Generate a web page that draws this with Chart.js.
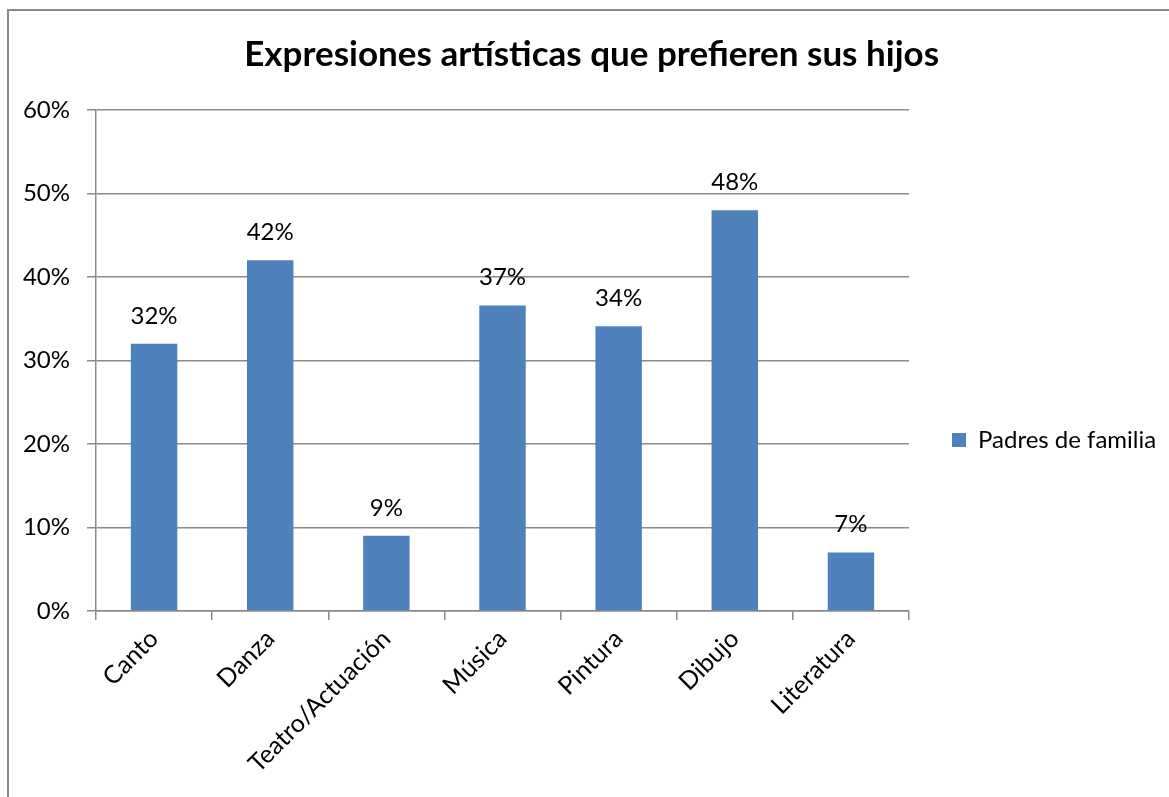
<!DOCTYPE html>
<html><head><meta charset="utf-8">
<script src="https://cdn.jsdelivr.net/npm/chart.js@4"></script>
<style>
html,body{margin:0;padding:0;overflow:hidden;background:#fff;width:1169px;height:797px}
#frame{position:absolute;left:7px;top:9px;width:1300px;height:1000px;border-left:2px solid #898989;border-top:2px solid #898989;}
#wrap{position:absolute;left:0;top:0;width:1200px;height:880px}
</style></head><body>
<div id="frame"></div>
<div id="wrap"><canvas id="c" width="1200" height="880"></canvas></div>
<script>
const categories = ['Canto','Danza','Teatro/Actuación','Música','Pintura','Dibujo','Literatura'];
const seriesName = 'Padres de familia';
const values = [32, 42, 9, 36.6, 34.1, 48, 7];
const yTickValues = [0, 10, 20, 30, 40, 50, 60];
const titleText = 'Expresiones artísticas que prefieren sus hijos';

const FONT = 'Lato';
const W = 1200, H = 880;
const legendFontSize = 24;
const mctx = document.createElement('canvas').getContext('2d');
mctx.font = legendFontSize + 'px ' + FONT;
const legendTextW = mctx.measureText(seriesName).width;
const legendPad = 43, legendBox = 14;
const padLeft = 17;
const padRight = W - 909 - (10 + legendPad + legendBox + legendFontSize / 2 + legendTextW);

const dataLabels = {
  id: 'dataLabels',
  afterDatasetsDraw(chart) {
    const ctx = chart.ctx;
    const meta = chart.getDatasetMeta(0);
    ctx.save();
    ctx.font = '24px ' + FONT;
    ctx.fillStyle = '#000';
    ctx.textAlign = 'center';
    ctx.textBaseline = 'middle';
    meta.data.forEach((el, i) => {
      ctx.fillText(Math.round(values[i]) + '%', el.x, el.y - 28);
    });
    ctx.restore();
  }
};

new Chart(document.getElementById('c'), {
  type: 'bar',
  data: {
    labels: categories,
    datasets: [{
      label: seriesName,
      data: values,
      backgroundColor: '#4F81BD',
      borderWidth: 0,
      barPercentage: 0.4,
      categoryPercentage: 1.0
    }]
  },
  options: {
    responsive: false,
    devicePixelRatio: 1,
    animation: false,
    layout: { padding: { left: padLeft, top: 0, bottom: 0, right: padRight } },
    plugins: {
      title: {
        display: true,
        text: titleText,
        color: '#000',
        font: { family: FONT, size: 35, weight: 'bold' },
        padding: { top: 34, bottom: 34 }
      },
      legend: {
        position: 'right',
        align: 'center',
        labels: {
          color: '#000',
          font: { family: FONT, size: legendFontSize },
          boxWidth: legendBox,
          boxHeight: legendBox,
          padding: legendPad
        }
      },
      tooltip: { enabled: false }
    },
    scales: {
      y: {
        min: 0,
        max: 60,
        afterBuildTicks(scale) { scale.ticks = yTickValues.map(v => ({ value: v })); },
        afterFit(scale) { scale.width = 96 - padLeft; },
        ticks: {
          color: '#000',
          font: { family: FONT, size: 24 },
          padding: 17,
          callback: v => v + '%'
        },
        grid: { color: '#8a8a8a', lineWidth: 1.5, tickLength: 9 },
        border: { color: '#8a8a8a', width: 1.5 }
      },
      x: {
        afterFit(scale) { scale.height = H - 611; },
        ticks: {
          color: '#000',
          font: { family: FONT, size: 25 },
          minRotation: 45,
          maxRotation: 45,
          padding: 4
        },
        grid: { drawOnChartArea: false, color: '#8a8a8a', lineWidth: 1.5, tickLength: 9 },
        border: { color: '#8a8a8a', width: 1.5 }
      }
    }
  },
  plugins: [dataLabels]
});
</script>
</body></html>
